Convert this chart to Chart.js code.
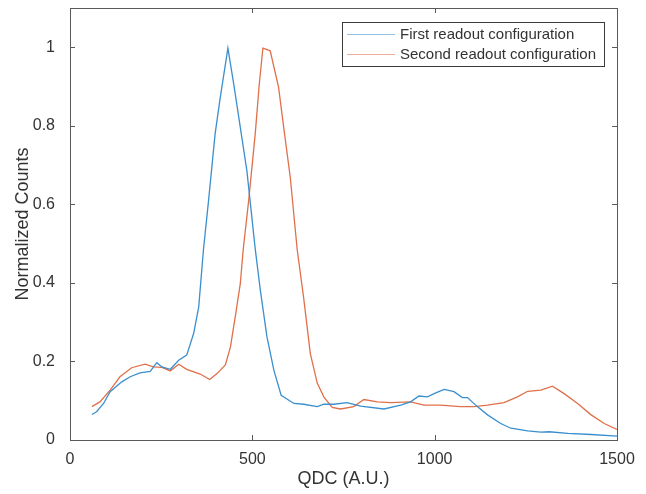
<!DOCTYPE html>
<html>
<head>
<meta charset="utf-8">
<script src="https://cdn.jsdelivr.net/npm/chart.js@4"></script>
<style>
  html, body { margin: 0; padding: 0; background: #fff; }
  #wrap { width: 646px; height: 494px; }
</style>
</head>
<body>
<div id="wrap"><canvas id="chart-qdc"></canvas></div>
<script>
const seriesLabels = ['First readout configuration', 'Second readout configuration'];

const firstX = [60, 73, 92, 110, 142, 165, 192, 220, 238, 252, 275, 298, 320, 339, 353, 366, 380, 398, 412, 433,
  449, 467, 485, 508, 522, 540, 559, 579, 614, 641, 678, 696, 723, 760, 797, 861, 907, 934, 957, 980,
  1003, 1026, 1053, 1076, 1090, 1117, 1145, 1181, 1209, 1255, 1291, 1314, 1365, 1429, 1500];
const firstY = [0.065, 0.072, 0.093, 0.123, 0.148, 0.161, 0.171, 0.175, 0.197, 0.186, 0.180, 0.203, 0.216, 0.271, 0.339, 0.485, 0.61, 0.78, 0.872, 0.998,
  0.906, 0.796, 0.686, 0.486, 0.381, 0.263, 0.178, 0.114, 0.093, 0.091, 0.085, 0.091, 0.091, 0.095, 0.086, 0.079, 0.089, 0.097, 0.112, 0.110,
  0.120, 0.129, 0.123, 0.108, 0.108, 0.085, 0.064, 0.042, 0.030, 0.023, 0.020, 0.021, 0.017, 0.014, 0.010];

const secondX = [60, 82, 110, 137, 169, 206, 229, 252, 275, 298, 320, 357, 383, 403, 426, 440, 453, 467, 475, 490,
  508, 519, 529, 549, 572, 586, 604, 623, 641, 659, 678, 696, 719, 742, 778, 806, 843, 879, 934, 971,
  1016, 1071, 1108, 1145, 1190, 1227, 1255, 1291, 1323, 1355, 1392, 1429, 1465, 1500];
const secondY = [0.085, 0.097, 0.127, 0.161, 0.184, 0.193, 0.186, 0.185, 0.176, 0.193, 0.180, 0.168, 0.154, 0.169, 0.191, 0.237, 0.313, 0.398, 0.485, 0.61,
  0.78, 0.906, 0.998, 0.991, 0.898, 0.796, 0.669, 0.485, 0.36, 0.22, 0.145, 0.110, 0.083, 0.079, 0.085, 0.103, 0.097, 0.095, 0.097, 0.089,
  0.089, 0.085, 0.085, 0.089, 0.095, 0.110, 0.124, 0.127, 0.137, 0.118, 0.093, 0.064, 0.042, 0.027];

const xTicks = [0, 500, 1000, 1500];
const yTicks = [0, 0.2, 0.4, 0.6, 0.8, 1];

const colors = ['#3a8fcf', '#e0704a'];
const axisColor = '#5a5a5a';
const textColor = '#333333';
const fontFamily = 'Arial, "Liberation Sans", Helvetica, sans-serif';

function toPoints(xs, ys) {
  return xs.map((x, i) => ({ x: x, y: ys[i] }));
}

// MATLAB-like box with inward ticks on all four sides
const boxAxes = {
  id: 'boxAxes',
  afterDraw(chart) {
    const { ctx, chartArea: a, scales } = chart;
    ctx.save();
    ctx.strokeStyle = axisColor;
    ctx.lineWidth = 1;
    ctx.strokeRect(a.left + 0.5, a.top + 0.5, a.right - a.left, a.bottom - a.top);
    ctx.beginPath();
    xTicks.forEach(v => {
      const px = Math.round(scales.x.getPixelForValue(v)) + 0.5;
      ctx.moveTo(px, a.bottom); ctx.lineTo(px, a.bottom - 5);
      ctx.moveTo(px, a.top); ctx.lineTo(px, a.top + 5);
    });
    yTicks.forEach(v => {
      const py = Math.round(scales.y.getPixelForValue(v)) + 0.5;
      ctx.moveTo(a.left, py); ctx.lineTo(a.left + 5, py);
      ctx.moveTo(a.right, py); ctx.lineTo(a.right - 5, py);
    });
    ctx.stroke();
    ctx.restore();
  }
};

// legend box in the top right corner
const boxLegend = {
  id: 'boxLegend',
  afterDraw(chart) {
    const { ctx } = chart;
    const left = 342, top = 22, w = 262, h = 44;
    ctx.save();
    ctx.fillStyle = '#fff';
    ctx.fillRect(left, top, w, h);
    ctx.strokeStyle = '#3a3a3a';
    ctx.lineWidth = 1;
    ctx.strokeRect(left + 0.5, top + 0.5, w, h);
    ctx.font = '15px ' + fontFamily;
    ctx.textBaseline = 'middle';
    chart.data.datasets.forEach((ds, i) => {
      const y = top + 12 + i * 20;
      ctx.strokeStyle = ds.borderColor;
      ctx.globalAlpha = 0.55;
      ctx.beginPath();
      ctx.moveTo(347, y + 0.5); ctx.lineTo(395, y + 0.5);
      ctx.stroke();
      ctx.globalAlpha = 1;
      ctx.fillStyle = textColor;
      ctx.fillText(ds.label, 400, y + 1);
    });
    ctx.restore();
  }
};

const configQdc = {
  type: 'line',
  data: {
    datasets: [
      { label: seriesLabels[0], data: toPoints(firstX, firstY), borderColor: colors[0], borderWidth: 1.3, pointRadius: 0, tension: 0 },
      { label: seriesLabels[1], data: toPoints(secondX, secondY), borderColor: colors[1], borderWidth: 1.3, pointRadius: 0, tension: 0 }
    ]
  },
  options: {
    responsive: true,
    maintainAspectRatio: false,
    animation: false,
    layout: { padding: { top: 8, right: 29, left: 0, bottom: 0 } },
    plugins: {
      legend: { display: false },
      tooltip: { enabled: false }
    },
    scales: {
      x: {
        type: 'linear',
        min: 0, max: 1500,
        afterBuildTicks: s => { s.ticks = xTicks.map(v => ({ value: v })); },
        afterFit: s => { s.height = 54; s.paddingLeft = 0; s.paddingRight = 0; },
        grid: { display: false },
        border: { display: false },
        ticks: { color: textColor, font: { family: fontFamily, size: 16 }, padding: 2, maxRotation: 0, callback: v => String(v) },
        title: { display: true, text: 'QDC (A.U.)', color: textColor, font: { family: fontFamily, size: 18 }, padding: { top: 1 } }
      },
      y: {
        type: 'linear',
        min: 0, max: 1.1,
        afterBuildTicks: s => { s.ticks = yTicks.map(v => ({ value: v })); },
        afterFit: s => { s.width = 70; s.paddingTop = 0; s.paddingBottom = 0; },
        grid: { display: false },
        border: { display: false },
        ticks: { color: textColor, font: { family: fontFamily, size: 16 }, padding: 7, callback: v => String(v) },
        title: { display: true, text: 'Normalized Counts', color: textColor, font: { family: fontFamily, size: 18 }, padding: { top: 12, bottom: 4 } }
      }
    }
  },
  plugins: [boxAxes, boxLegend]
};

const myChartQdc = new Chart(document.getElementById('chart-qdc'), configQdc);
</script>
</body>
</html>
